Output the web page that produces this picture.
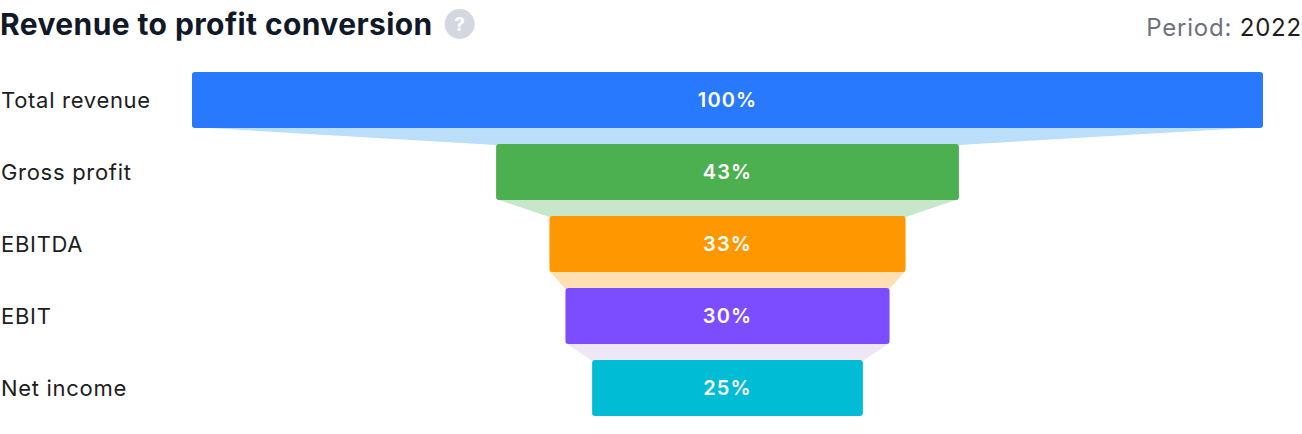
<!DOCTYPE html>
<html>
<head>
<meta charset="utf-8">
<script src="https://cdn.jsdelivr.net/npm/d3@7"></script>
<style>
  html, body { margin: 0; padding: 0; background: #ffffff; }
  svg { display: block; }
</style>
</head>
<body>
<div id="funnel-visual"></div>
<script>
// Data
const stages = ["Total revenue", "Gross profit", "EBITDA", "EBIT", "Net income"];
const percents = [100, 43, 33, 30, 25];
const barColors = ["#2979ff", "#4caf50", "#ff9800", "#7c4dff", "#00bcd4"];
const linkColors = ["#bbdefb", "#c8e6c9", "#ffe0b2", "#ede7f6"];
const titleText = "Revenue to profit conversion";
const periodLabel = "Period:";
const periodValue = "2022";

// Dimensions
const width = 1302;
const height = 434;
const funnelLeft = 192;
const funnelRight = 1263;
const barPad = 2; // extra px each side of a bar
const barTop = 72;
const barStep = 72;
const barHeight = 56;
const fontFamily = "Inter, 'Noto Sans', sans-serif";

const svg = d3
  .select("#funnel-visual")
  .append("svg")
  .attr("width", width)
  .attr("height", height);

const cx = (funnelLeft + funnelRight) / 2;

// width scale: 0..100 % maps to full funnel width (minus padding)
const w = d3
  .scaleLinear()
  .domain([0, 100])
  .range([0, funnelRight - funnelLeft - 2 * barPad]);

const y = d3
  .scaleBand()
  .domain(stages)
  .range([barTop, barTop + barStep * (stages.length - 1) + barHeight])
  .paddingInner((barStep - barHeight) / barStep)
  .paddingOuter(0);

const rows = stages.map((s, i) => ({
  name: s,
  value: percents[i],
  color: barColors[i],
  half: w(percents[i]) / 2 + barPad,
  y: y(s)
}));

// Connectors between bars
const links = rows.slice(0, -1).map((r, i) => ({ from: r, to: rows[i + 1], color: linkColors[i] }));

svg
  .selectAll("path.link")
  .data(links)
  .enter()
  .append("path")
  .attr("class", "link")
  .attr("fill", d => d.color)
  .attr("d", d => {
    const y0 = d.from.y + y.bandwidth() - 1;
    const y1 = d.to.y + 1;
    return `M${cx - d.from.half},${y0}L${cx + d.from.half},${y0}L${cx + d.to.half},${y1}L${cx - d.to.half},${y1}Z`;
  });

// Bars
svg
  .selectAll("rect.bar")
  .data(rows)
  .enter()
  .append("rect")
  .attr("class", "bar")
  .attr("x", d => cx - d.half)
  .attr("y", d => d.y)
  .attr("width", d => d.half * 2)
  .attr("height", y.bandwidth())
  .attr("rx", 3)
  .attr("fill", d => d.color);

// Percent labels
svg
  .selectAll("text.pct")
  .data(rows)
  .enter()
  .append("text")
  .attr("class", "pct")
  .attr("x", cx)
  .attr("y", d => d.y + y.bandwidth() / 2)
  .attr("dy", "0.36em")
  .attr("text-anchor", "middle")
  .attr("fill", "#ffffff")
  .attr("font-family", fontFamily)
  .attr("font-weight", 600)
  .attr("font-size", "20px")
  .attr("letter-spacing", "1.1px")
  .text(d => d.value + "%");

// Stage labels
svg
  .selectAll("text.stage")
  .data(rows)
  .enter()
  .append("text")
  .attr("class", "stage")
  .attr("x", 1)
  .attr("y", d => d.y + y.bandwidth() / 2)
  .attr("dy", "0.36em")
  .attr("fill", "#1c1d21")
  .attr("font-family", fontFamily)
  .attr("font-size", "22px")
  .attr("letter-spacing", "0.7px")
  .text(d => d.name);

// Title
const title = svg
  .append("text")
  .attr("x", 0)
  .attr("y", 35)
  .attr("fill", "#111827")
  .attr("font-family", fontFamily)
  .attr("font-weight", 700)
  .attr("font-size", "30px")
  .attr("letter-spacing", "0.4px")
  .text(titleText);

const tw = title.node().getComputedTextLength();

// Help icon
const help = svg.append("g").attr("transform", `translate(${tw + 27},24)`);
help.append("circle").attr("r", 15).attr("fill", "#d5d7e0");
help
  .append("text")
  .attr("text-anchor", "middle")
  .attr("dy", "0.36em")
  .attr("fill", "#ffffff")
  .attr("font-family", fontFamily)
  .attr("font-weight", 700)
  .attr("font-size", "19px")
  .text("?");

// Period
const period = svg
  .append("text")
  .attr("x", width)
  .attr("y", 36)
  .attr("text-anchor", "end")
  .attr("font-family", fontFamily)
  .attr("font-size", "24px")
  .attr("letter-spacing", "0.8px");
period.append("tspan").attr("fill", "#6f717b").text(periodLabel + " ");
period.append("tspan").attr("fill", "#1c1d21").text(periodValue);
</script>
</body>
</html>
